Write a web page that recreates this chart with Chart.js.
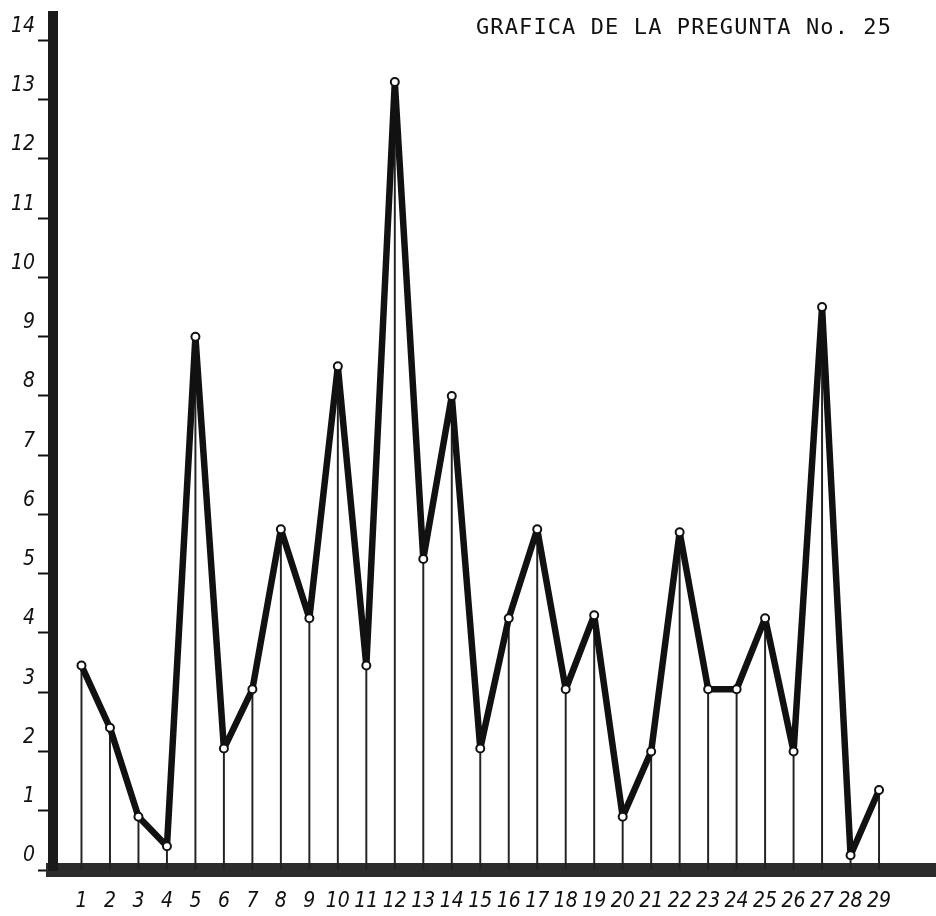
<!DOCTYPE html>
<html>
<head>
<meta charset="utf-8">
<title>Gráfica de la pregunta No. 25</title>
<script src="https://cdn.jsdelivr.net/npm/chart.js@4.4.1/dist/chart.umd.min.js"></script>
<style>
  html, body { margin: 0; padding: 0; background: #ffffff; }
  #wrap { position: relative; width: 936px; height: 916px; }
  #titulo {
    position: absolute; left: 476px; top: 14px;
    font-family: 'DejaVu Sans Mono', 'Liberation Mono', monospace;
    font-size: 22px; letter-spacing: 1.1px; color: #111;
    white-space: nowrap;
  }
</style>
</head>
<body>
<div id="wrap">
  <canvas id="grafica"></canvas>
  <div id="titulo">GRAFICA DE LA PREGUNTA No. 25</div>
</div>
<script>
// Número de pregunta (eje horizontal)
const preguntas = [1, 2, 3, 4, 5, 6, 7, 8, 9, 10, 11, 12, 13, 14, 15,
                   16, 17, 18, 19, 20, 21, 22, 23, 24, 25, 26, 27, 28, 29];
// Etiquetas mostradas bajo el eje
const etiquetasX = ['1','2','3','4','5','6','7','8','9','10','11','12','13','14','15',
                    '16','17','18','19','20','21','22','23','24','25','26','27','28','29'];
// Valor de cada pregunta
const valores = [3.45, 2.4, 0.9, 0.4, 9.0, 2.05, 3.05, 5.75, 4.25, 8.5,
                 3.45, 13.3, 5.25, 8.0, 2.05, 4.25, 5.75, 3.05, 4.3, 0.9,
                 2.0, 5.7, 3.05, 3.05, 4.25, 2.0, 9.5, 0.25, 1.35];
// Marcas del eje vertical
const marcasY = [0, 1, 2, 3, 4, 5, 6, 7, 8, 9, 10, 11, 12, 13, 14];

const puntos = preguntas.map((p, i) => ({ x: p, y: valores[i] }));
const fuenteEje = {
  family: "'Liberation Sans Narrow', 'DejaVu Sans Condensed', 'DejaVu Sans', sans-serif",
  size: 21, style: 'italic'
};

new Chart(document.getElementById('grafica'), {
  type: 'line',
  data: {
    datasets: [
      {
        type: 'line',
        data: puntos,
        borderColor: '#111',
        borderWidth: 6.5,
        borderJoinStyle: 'round',
        borderCapStyle: 'round',
        tension: 0,
        pointRadius: 4,
        pointBorderWidth: 2,
        pointBackgroundColor: '#ffffff',
        pointBorderColor: '#111',
        order: 0
      },
      {
        type: 'bar',
        data: puntos,
        backgroundColor: '#222',
        barThickness: 1.3,
        order: 1
      }
    ]
  },
  options: {
    responsive: true,
    maintainAspectRatio: false,
    animation: false,
    layout: { autoPadding: false, padding: { top: 9, right: 0, left: 0, bottom: 0 } },
    plugins: { legend: { display: false }, tooltip: { enabled: false }, title: { display: false } },
    scales: {
      x: {
        type: 'linear',
        min: 0, max: 31,
        offset: false,
        grid: { display: false, drawTicks: true, tickLength: 16 },
        border: { display: true, color: '#2b2b2b', width: 14 },
        ticks: {
          stepSize: 1, autoSkip: false, maxRotation: 0, padding: 3,
          color: '#111', font: fuenteEje,
          callback: (v) => etiquetasX[preguntas.indexOf(v)] ?? ''
        },
        afterBuildTicks: (s) => { s.ticks = preguntas.map(p => ({ value: p })); },
        afterFit: (s) => { s.height = 46; }
      },
      y: {
        min: 0, max: 14.42,
        grid: { display: true, drawOnChartArea: false, drawTicks: true, tickLength: 15, tickColor: '#111', tickWidth: 2 },
        border: { display: true, color: '#1b1b1b', width: 10 },
        ticks: {
          stepSize: 1, padding: 3, labelOffset: -14,
          color: '#111', font: fuenteEje
        },
        afterBuildTicks: (s) => { s.ticks = marcasY.map(v => ({ value: v })); },
        afterFit: (s) => { s.width = 53; }
      }
    }
  }
});
</script>
</body>
</html>
